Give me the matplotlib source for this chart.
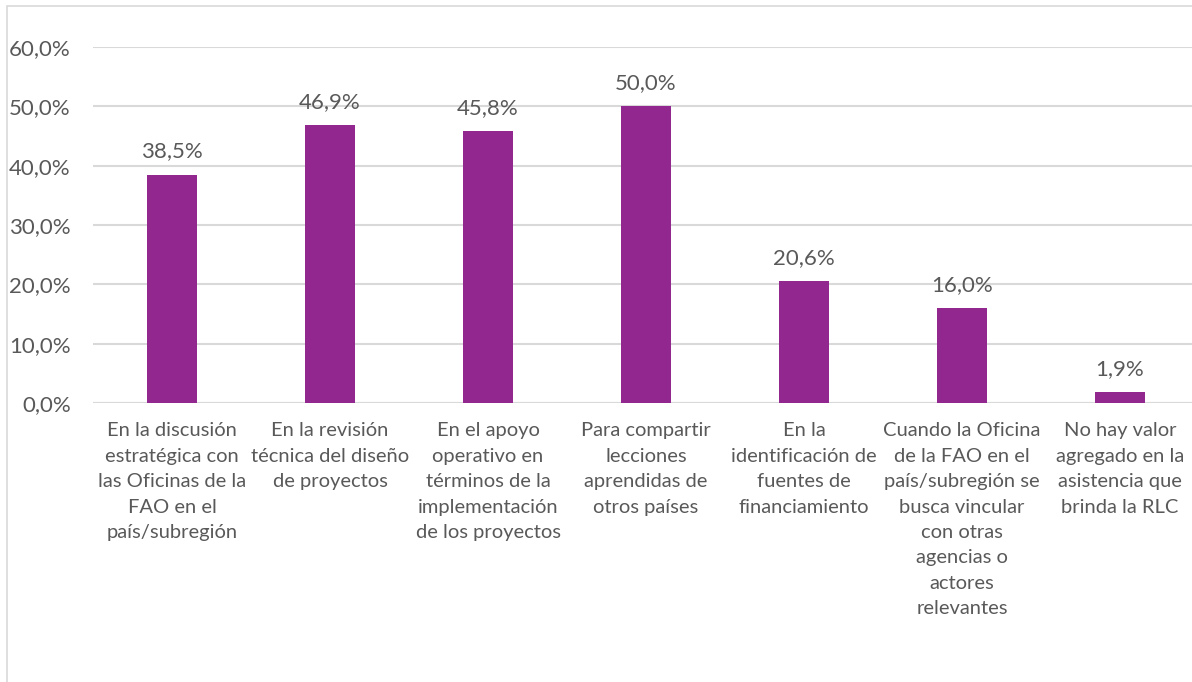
import matplotlib.pyplot as plt
from matplotlib.patches import Rectangle

categorias = [
    "En la discusión\nestratégica con\nlas Oficinas de la\nFAO en el\npaís/subregión",
    "En la revisión\ntécnica del diseño\nde proyectos",
    "En el apoyo\noperativo en\ntérminos de la\nimplementación\nde los proyectos",
    "Para compartir\nlecciones\naprendidas de\notros países",
    "En la\nidentificación de\nfuentes de\nfinanciamiento",
    "Cuando la Oficina\nde la FAO en el\npaís/subregión se\nbusca vincular\ncon otras\nagencias o\nactores\nrelevantes",
    "No hay valor\nagregado en la\nasistencia que\nbrinda la RLC",
]
valores = [38.5, 46.9, 45.8, 50.0, 20.6, 16.0, 1.9]
ticks_y = [0, 10, 20, 30, 40, 50, 60]

plt.rcParams['font.family'] = ['Lato', 'DejaVu Sans']
gris = '#595959'
morado = '#92278F'

W, H = 1192, 682
fig = plt.figure(figsize=(W / 100, H / 100), dpi=100)

# marco del grafico (se corta a la derecha y abajo)
fig.patches.append(Rectangle((7 / W, -0.1), 1.2, 1.1 - 6 / H, transform=fig.transFigure,
                             fill=False, edgecolor='#D9D9D9', linewidth=1.2))

# posicion del area de trazado en pixeles
left, right = 93, 1199
y0, y60 = 403, 47
ax = fig.add_axes([left / W, 1 - y0 / H, (right - left) / W, (y0 - y60) / H])

x = range(len(categorias))
ax.bar(x, valores, width=0.317, color=morado, zorder=3)
for xi, v in zip(x, valores):
    ax.text(xi, v + 2.2, f"{v:.1f}%".replace('.', ','), ha='center', va='bottom',
            fontsize=16, color=gris)

ax.set_xlim(-0.5, len(categorias) - 0.5)
ax.set_ylim(0, 60)
ax.set_yticks(ticks_y)
ax.set_yticklabels([f"{t:.1f}%".replace('.', ',') for t in ticks_y])
ax.set_xticks(list(x))
ax.set_xticklabels(categorias, linespacing=1.6, fontsize=14.5)
ax.tick_params(axis='y', length=0, labelsize=16, labelcolor=gris, pad=16)
ax.tick_params(axis='x', length=0, labelcolor=gris, pad=14)

ax.grid(axis='y', color='#D9D9D9', linewidth=1.5, zorder=0)
for s in ax.spines.values():
    s.set_visible(False)
ax.axhline(0, color='#D9D9D9', linewidth=1.5, zorder=2)

fig.savefig('out.png', dpi=100)
